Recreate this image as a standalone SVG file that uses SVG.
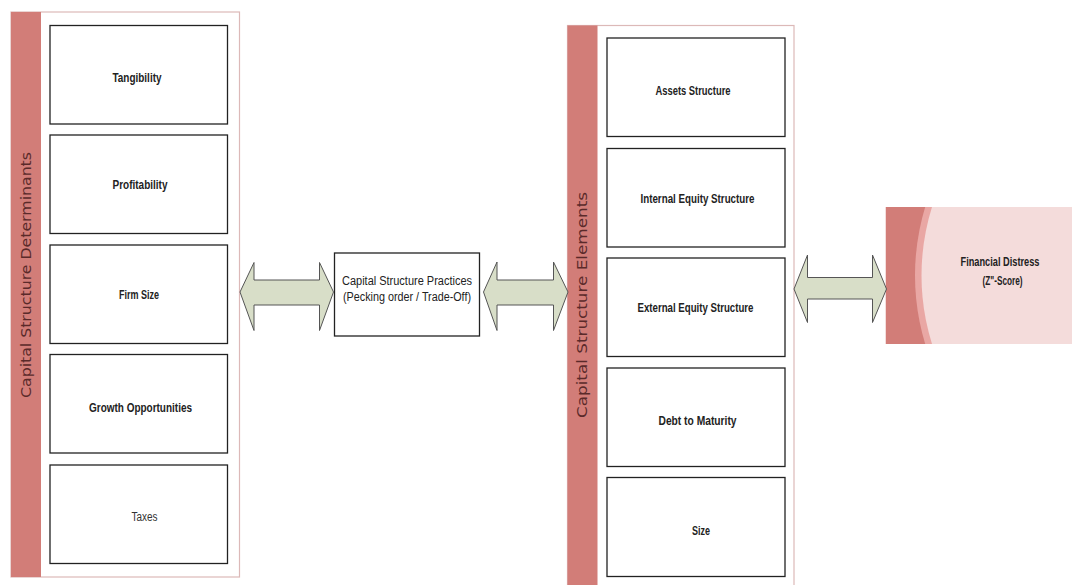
<svg xmlns="http://www.w3.org/2000/svg" width="1072" height="585" viewBox="0 0 1072 585">
<style>
.cont{fill:#fff;stroke:#dcb9b8;stroke-width:1.2}
.bar{fill:#d27d78}
.box{fill:#fff;stroke:#222;stroke-width:1.3}
.t{font-family:"Liberation Sans",Arial,sans-serif;font-size:12.5px;font-weight:bold;fill:#222;text-anchor:middle}
.tr{font-weight:normal;fill:#333}
.v{font-family:"DejaVu Sans","Verdana",sans-serif;font-size:14.5px;fill:#5a2a2a;text-anchor:middle}
.arr{fill:#d8dec8;stroke:#555;stroke-width:1}
</style>
<defs>
<clipPath id="fdclip"><rect x="885.5" y="207" width="190" height="137"/></clipPath>
</defs>
<rect width="1072" height="585" fill="#fff"/>

<g id="determinants">
<rect class="cont" x="11" y="12" width="228.5" height="565"/>
<rect class="bar" x="11" y="12" width="30" height="565"/>
<text class="v" transform="translate(31,275) rotate(-90)" textLength="246" lengthAdjust="spacingAndGlyphs">Capital Structure Determinants</text>
</g>
<g id="tangibility"><rect class="box" x="50" y="25.5" width="177.5" height="98.5"/><text class="t" x="137" y="82" textLength="49" lengthAdjust="spacingAndGlyphs">Tangibility</text></g>
<g id="profitability"><rect class="box" x="50" y="135" width="177.5" height="98.5"/><text class="t" x="140" y="188.5" textLength="55" lengthAdjust="spacingAndGlyphs">Profitability</text></g>
<g id="firm-size"><rect class="box" x="50" y="245" width="177.5" height="98.5"/><text class="t" x="139" y="298.5" textLength="40" lengthAdjust="spacingAndGlyphs">Firm Size</text></g>
<g id="growth"><rect class="box" x="50" y="354.5" width="177.5" height="98.5"/><text class="t" x="140.5" y="411.5" textLength="103" lengthAdjust="spacingAndGlyphs">Growth Opportunities</text></g>
<g id="taxes"><rect class="box" x="50" y="465" width="177.5" height="98.5"/><text class="t tr" x="144.5" y="520.5" textLength="26" lengthAdjust="spacingAndGlyphs">Taxes</text></g>

<g id="practices"><rect class="box" x="334.5" y="253" width="145" height="83"/>
<text class="t tr" x="407" y="285" textLength="130" lengthAdjust="spacingAndGlyphs" style="fill:#222">Capital Structure Practices</text>
<text class="t tr" x="407" y="301" textLength="128" lengthAdjust="spacingAndGlyphs" style="fill:#222">(Pecking order / Trade-Off)</text></g>

<g id="elements">
<rect class="cont" x="567.5" y="25.5" width="226.5" height="565"/>
<rect class="bar" x="567.5" y="25.5" width="30" height="565"/>
<text class="v" transform="translate(587,305) rotate(-90)" textLength="226" lengthAdjust="spacingAndGlyphs">Capital Structure Elements</text>
</g>
<g id="assets"><rect class="box" x="607" y="38" width="178" height="98.5"/><text class="t" x="693" y="94.5" textLength="75" lengthAdjust="spacingAndGlyphs">Assets Structure</text></g>
<g id="internal"><rect class="box" x="607" y="148.5" width="178" height="98.5"/><text class="t" x="697.5" y="202.5" textLength="114" lengthAdjust="spacingAndGlyphs">Internal Equity Structure</text></g>
<g id="external"><rect class="box" x="607" y="258" width="178" height="98.5"/><text class="t" x="695.5" y="312" textLength="116" lengthAdjust="spacingAndGlyphs">External Equity Structure</text></g>
<g id="debt"><rect class="box" x="607" y="368" width="178" height="98.5"/><text class="t" x="697.5" y="424.5" textLength="78" lengthAdjust="spacingAndGlyphs">Debt to Maturity</text></g>
<g id="size"><rect class="box" x="607" y="477.5" width="178" height="99"/><text class="t" x="701" y="534.5" textLength="18" lengthAdjust="spacingAndGlyphs">Size</text></g>

<g id="financial-distress">
<g clip-path="url(#fdclip)">
<rect x="885.5" y="207" width="190" height="137" fill="#d27d78"/>
<circle cx="1150" cy="275.5" r="235" fill="#e9a7a4"/>
<circle cx="1150" cy="275.5" r="228.5" fill="#f4dcdb"/>
</g>
<text class="t" x="1000" y="266" textLength="79" lengthAdjust="spacingAndGlyphs">Financial Distress</text>
<text class="t" x="1002.5" y="285" textLength="40" lengthAdjust="spacingAndGlyphs">(Z"-Score)</text>
</g>

<g id="connectors">
<polygon class="arr" points="240,292 254,262.5 254,280 319.5,280 319.5,262.5 333.5,292 319.5,330.5 319.5,305 254,305 254,330.5"/>
<polygon class="arr" points="483.5,292 497,262 497,280 553.5,280 553.5,262 568,292 553.5,330.5 553.5,305 497,305 497,330.5"/>
<polygon class="arr" points="794,289 807.5,255 807.5,277.5 872.5,277.5 872.5,255 886.5,289 872.5,322.5 872.5,299 807.5,299 807.5,322.5"/>
</g>
</svg>
